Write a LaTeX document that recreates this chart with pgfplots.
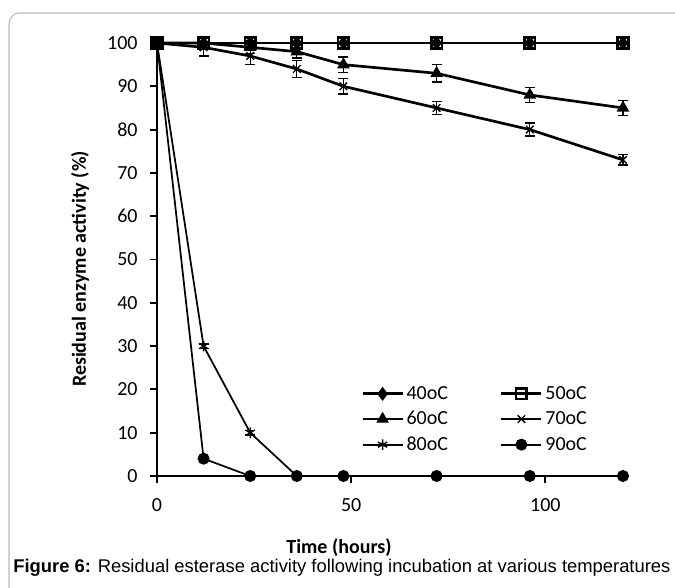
\documentclass[border=0pt]{standalone}
\usepackage{fontspec}
\setmainfont{Carlito}
\newfontfamily\arial{Liberation Sans}
\usepackage{pgfplots}
\pgfplotsset{compat=1.18}
\usepackage{pgfplotstable}

% time (h), residual activity (%), error
\pgfplotstableread{
x y e
0 100 0.5
12 100 1
24 100 1
36 100 1
48 100 1
72 100 1
96 100 1
120 100 1
}\tforty
\pgfplotstableread{
x y e
0 100 0.5
12 100 1.5
24 100 1.5
36 100 1.5
48 100 1.5
72 100 1.5
96 100 1.5
120 100 1.5
}\tfifty
\pgfplotstableread{
x y e
0 100 0.5
12 100 1
24 99 1.5
36 98 1.5
48 95 1.8
72 93 2
96 88 1.7
120 85 1.7
}\tsixty
\pgfplotstableread{
x y e
0 100 0.5
12 99 2
24 97 2
36 94 2
48 90 1.8
72 85 1.5
96 80 1.5
120 73 1.2
}\tseventy
\pgfplotstableread{
x y e
0 100 0.5
12 30 0.5
24 10 0.5
36 0 0
48 0 0
72 0 0
96 0 0
120 0 0
}\teighty
\pgfplotstableread{
x y e
0 100 0.5
12 4 0
24 0 0
36 0 0
48 0 0
72 0 0
96 0 0
120 0 0
}\tninety

\begin{document}
\begin{tikzpicture}
\useasboundingbox (0,0) rectangle (506.25pt,441pt);
\draw[gray!55, line width=0.8pt, rounded corners=8pt] (6.75pt,-2pt) -- (6.75pt,431.25pt) -- (510pt,431.25pt);

\begin{axis}[
    at={(117.75pt,84pt)}, anchor=south west,
    scale only axis, width=349.5pt, height=324.75pt,
    xmin=0, xmax=120, ymin=0, ymax=100,
    axis lines=left,
    axis line style={-, line width=1.8pt},
    xtick={0,50,100}, ytick={0,10,...,100},
    tick style={line width=1.4pt, black},
    major tick length=5pt, tick align=outside,
    ticklabel style={font=\fontsize{15}{17}\selectfont},
    yticklabel style={xshift=-6pt},
    xticklabel style={yshift=-8pt},
    /pgf/number format/assume math mode=true,
    clip=false,
    legend columns=2,
    legend cell align=left,
    legend image code/.code={\draw[mark repeat=2, mark phase=2, #1] plot coordinates {(0pt,0pt)(15pt,0pt)(30pt,0pt)};},
    legend style={at={(axis cs:51.5,22)}, anchor=north west, draw=none, fill=none,
        font=\fontsize{15}{17}\selectfont, row sep=3.5pt,
        /tikz/every even column/.append style={column sep=37pt}},
    every axis plot/.append style={black, mark options={solid, line width=1pt},
        error bars/y dir=both, error bars/y explicit,
        error bars/error bar style={line width=1pt},
        error bars/error mark options={rotate=90, mark size=3.75pt, line width=1pt}},
]
\addplot[line width=2pt, mark=diamond*, mark size=4.5pt] table[x=x, y=y, y error=e] {\tforty};
\addlegendentry{40oC}
\addplot[line width=2pt, mark=square, mark size=4pt, mark options={fill=white}] table[x=x, y=y, y error=e] {\tfifty};
\addlegendentry{50oC}
\addplot[line width=2pt, mark=triangle*, mark size=4.5pt] table[x=x, y=y, y error=e] {\tsixty};
\addlegendentry{60oC}
\addplot[line width=2pt, mark=x, mark size=4pt] table[x=x, y=y, y error=e] {\tseventy};
\addlegendentry{70oC}
\addplot[line width=1.3pt, mark=asterisk, mark size=4pt] table[x=x, y=y, y error=e] {\teighty};
\addlegendentry{80oC}
\addplot[line width=1.3pt, mark=*, mark size=4pt] table[x=x, y=y, y error=e] {\tninety};
\addlegendentry{90oC}
\end{axis}

\node[font=\bfseries\fontsize{15}{17}\selectfont] at (254.25pt,30pt) {Time (hours)};
\node[font=\bfseries\fontsize{15}{17}\selectfont, rotate=90] at (60pt,239.25pt) {Residual enzyme activity (\%)};
\node[anchor=west, inner sep=0pt, font=\arial\fontsize{13.8}{15}\selectfont] at (9.75pt,15pt)
    {\textbf{Figure 6:} Residual esterase activity following incubation at various temperatures};
\end{tikzpicture}
\end{document}
